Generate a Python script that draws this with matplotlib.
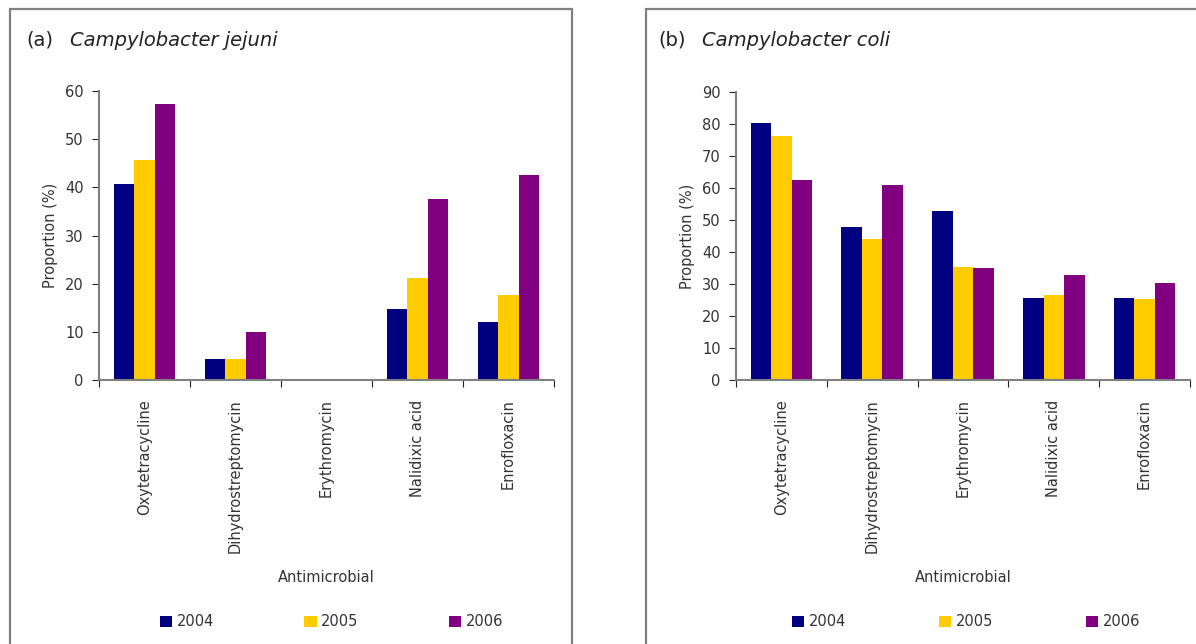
import matplotlib
matplotlib.use("Agg")
import matplotlib.pyplot as plt
from matplotlib.patches import Rectangle
import numpy as np

antimicrobials = ["Oxytetracycline", "Dihydrostreptomycin", "Erythromycin",
                  "Nalidixic acid", "Enrofloxacin"]
years = ["2004", "2005", "2006"]

# proportion resistant (%) by year, one list per antimicrobial order above
jejuni_2004 = [40.7, 4.4, 0.0, 14.7, 12.0]
jejuni_2005 = [45.7, 4.4, 0.0, 21.2, 17.6]
jejuni_2006 = [57.3, 10.0, 0.0, 37.6, 42.6]

coli_2004 = [80.4, 47.7, 52.7, 25.5, 25.5]
coli_2005 = [76.4, 44.1, 35.2, 26.7, 25.2]
coli_2006 = [62.6, 60.8, 34.9, 32.7, 30.2]

colors = ["#000080", "#FFCC00", "#800080"]
txt = "#333333"
grey = "#808080"

plt.rcParams['font.family'] = ['DejaVu Sans']

W, H = 1196, 644
fig = plt.figure(figsize=(W / 100, H / 100), dpi=100)


def px(x0, y0, x1, y1):
    return [x0 / W, 1 - y1 / H, (x1 - x0) / W, (y1 - y0) / H]


# panel frames
for x0, x1 in [(10, 572), (646, 1230)]:
    fig.patches.append(Rectangle((x0 / W, -0.1), (x1 - x0) / W, 1.1 - 9 / H,
                                 transform=fig.transFigure, fill=False,
                                 edgecolor=grey, linewidth=1.6, zorder=0))


def panel(rect, series, ymax, letter, species, tx, leg_box):
    ax = fig.add_axes(rect)
    x = np.arange(len(antimicrobials))
    bw = 0.226
    for i, (vals, c) in enumerate(zip(series, colors)):
        ax.bar(x + (i - 1) * bw, vals, bw, color=c, label=years[i], linewidth=0)
    ax.set_xlim(-0.5, len(antimicrobials) - 0.5)
    ax.set_ylim(0, ymax)
    ax.set_yticks(np.arange(0, ymax + 1, 10))
    ax.set_xticks(np.arange(-0.5, len(antimicrobials), 1.0))
    ax.set_xticklabels([])
    ax.set_xticks(x, minor=True)
    ax.set_xticklabels(antimicrobials, minor=True, rotation=90, fontsize=10.5,
                       color=txt)
    ax.tick_params(axis="x", which="minor", length=0, pad=14)
    ax.tick_params(axis="x", which="major", length=5, color="#222222",
                   direction="out")
    ax.tick_params(axis="y", length=5, color="#222222", labelsize=10.5,
                   labelcolor=txt, pad=6)
    for s in ["top", "right"]:
        ax.spines[s].set_visible(False)
    for s in ["left", "bottom"]:
        ax.spines[s].set_color(grey)
        ax.spines[s].set_linewidth(1.5)
    ax.set_ylabel("Proportion (%)", fontsize=10.5, color=txt, labelpad=5)
    ax.set_xlabel("Antimicrobial", fontsize=10.5, color=txt, labelpad=12)
    ax.text(tx, 1 - 40 / H, letter, transform=fig.transFigure, fontsize=14,
            color="#222222", va="center")
    ax.text(tx + 44 / W, 1 - 40 / H, species, transform=fig.transFigure,
            fontsize=14, style="italic", color="#222222", va="center")
    leg = ax.legend(loc="center", bbox_to_anchor=leg_box,
                    mode="expand", ncol=3, frameon=False, fontsize=10.5,
                    handlelength=0.85, handleheight=0.85, handletextpad=0.3,
                    borderaxespad=0, borderpad=0)
    for t in leg.get_texts():
        t.set_color(txt)
    return ax


panel(px(99, 91, 554, 380), [jejuni_2004, jejuni_2005, jejuni_2006], 60,
      "(a)", "Campylobacter jejuni", 26 / W, (0.134, -0.862, 0.754, 0.05))
panel(px(736, 92, 1190, 380), [coli_2004, coli_2005, coli_2006], 90,
      "(b)", "Campylobacter coli", 658 / W, (0.123, -0.865, 0.767, 0.05))

fig.savefig("out.png", dpi=100)
